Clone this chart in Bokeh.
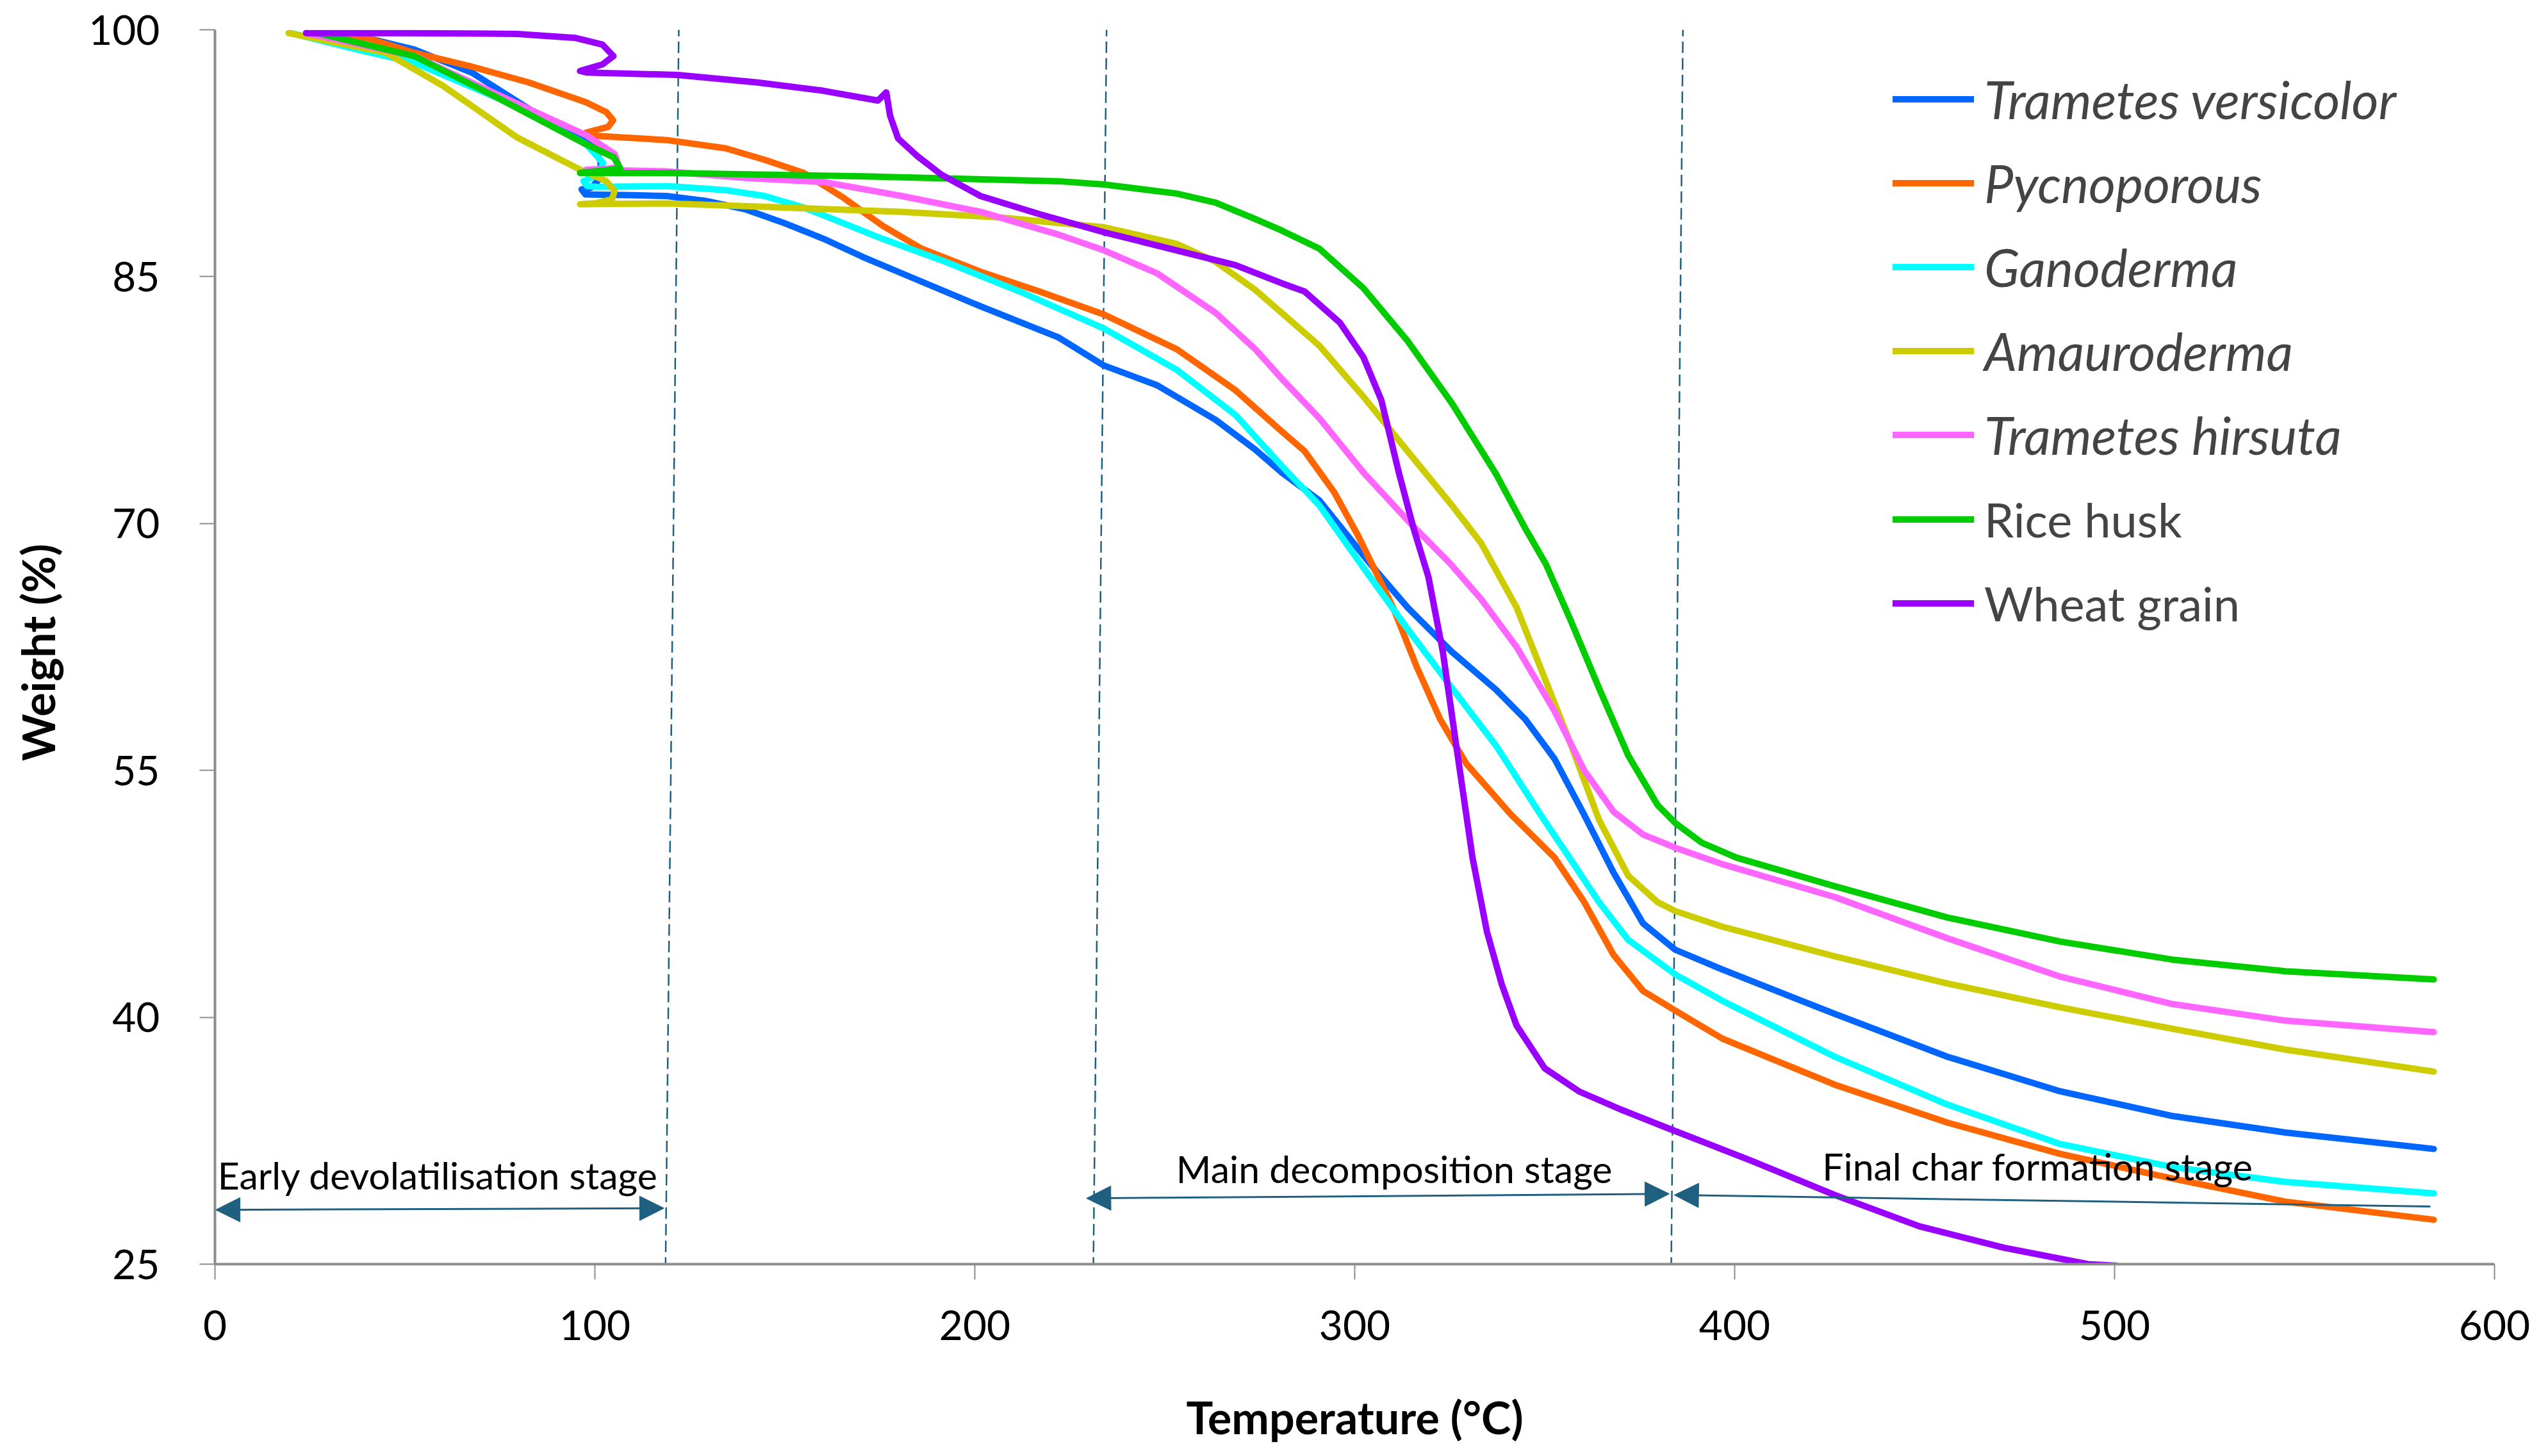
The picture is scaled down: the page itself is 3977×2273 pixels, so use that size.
from bokeh.plotting import figure
from bokeh.models import Range1d, FixedTicker, Legend, LegendItem, Arrow, NormalHead
from bokeh.core.properties import value
from bokeh.embed import file_html
from bokeh.resources import INLINE

# --- data (temperature in degC, weight in %) ---
tv_t = [24, 40, 52.5, 67.6, 82.6, 95, 99.2, 101.5, 101.5, 99, 96.5, 97.5, 110, 118.9, 129.2, 139.5, 149.9, 160.2,
        170.5, 180.8, 201.5, 222.1, 234, 248, 263.4, 273.8, 280.8, 290.7, 303.9, 313.9, 325.6, 337.2, 344.9, 352.6,
        360.4, 368.1, 375.9, 384.4, 396.8, 426.4, 456, 485.7, 515.3, 544.9, 584]
tv_w = [99.8, 99.5, 98.8, 97.4, 95.2, 93.7, 93.05, 92.0, 91.0, 90.4, 90.3, 90.0, 89.95, 89.9, 89.6, 89.1, 88.25, 87.3,
        86.2, 85.2, 83.2, 81.3, 79.6, 78.4, 76.3, 74.5, 73.1, 71.4, 67.6, 64.9, 62.2, 59.9, 58.1, 55.7, 52.3, 48.8,
        45.7, 44.1, 42.9, 40.2, 37.6, 35.5, 34.0, 33.0, 32.0]

py_t = [24, 40, 52.5, 67, 82.6, 97.6, 103, 104.8, 103.5, 100, 97.7, 100.7, 118.9, 134.4, 144.7, 155, 165.4, 175.7, 186,
        201.5, 217, 234, 253.1, 268.6, 280.8, 286.8, 294.6, 300.8, 306.2, 310.1, 316.3, 322.5, 329.4, 341, 352.6,
        360.4, 368.1, 375.9, 384.4, 396.8, 426.4, 456, 485.7, 515.3, 544.9, 584]
py_w = [99.8, 99.5, 98.6, 97.8, 96.8, 95.6, 95.0, 94.5, 94.1, 93.9, 93.75, 93.55, 93.3, 92.8, 92.1, 91.3, 89.8, 88.1,
        86.7, 85.3, 84.1, 82.7, 80.6, 78.1, 75.6, 74.4, 71.9, 69.3, 66.75, 64.9, 61.3, 58.1, 55.4, 52.35, 49.7, 47.0,
        43.8, 41.6, 40.4, 38.7, 35.9, 33.6, 31.7, 30.2, 28.8, 27.7]

ga_t = [20, 37.5, 52.5, 75, 97.7, 102.2, 101, 97, 98, 100.7, 118.9, 134.4, 144.7, 155, 165.4, 175.7, 191.2, 211.8, 234,
        253.1, 268.6, 280.8, 290.7, 301.6, 313.9, 325.6, 337.2, 348.8, 356.5, 364.3, 372, 384.4, 396.8, 426.4, 456,
        485.7, 515.3, 544.9, 584]
ga_w = [99.8, 98.8, 98.0, 95.8, 93.05, 91.9, 91.2, 90.8, 90.5, 90.45, 90.5, 90.26, 89.9, 89.2, 88.25, 87.3, 86.0, 84.1,
        81.85, 79.35, 76.6, 73.5, 71.1, 67.54, 63.6, 60.0, 56.5, 52.35, 49.7, 47.0, 44.7, 42.6, 41.0, 37.6, 34.7, 32.3,
        30.9, 30.0, 29.3]

am_t = [19.4, 45, 60, 79.6, 96.1, 103, 105.2, 104.5, 100, 96.1, 118.9, 149.9, 180.8, 206.7, 234, 253.1, 263.4, 273.8,
        280.8, 290.7, 302.3, 313.9, 325.6, 333.3, 342.6, 348.8, 356.5, 364.3, 372, 379.7, 384.4, 396.8, 426.4, 456,
        485.7, 515.3, 544.9, 584]
am_w = [99.8, 98.6, 96.6, 93.45, 91.5, 90.8, 90.2, 89.7, 89.45, 89.4, 89.45, 89.2, 88.94, 88.6, 88.0, 87.0, 85.9, 84.2,
        82.8, 80.8, 77.7, 74.4, 71.1, 68.8, 64.9, 61.3, 56.8, 52.0, 48.6, 47.0, 46.45, 45.5, 43.7, 42.05, 40.6, 39.3,
        38.04, 36.7]

th_t = [24, 52.5, 75, 97.7, 105.2, 106.4, 103, 97.7, 118.9, 139.5, 160.2, 180.8, 201.5, 222.1, 234, 248, 263.4, 273.8,
        280.8, 290.7, 302.3, 313.9, 325, 333.3, 342.6, 352.6, 360.4, 368.1, 375.9, 384.4, 396.8, 426.4, 456, 485.7,
        515.3, 544.9, 584]
th_w = [99.8, 98.4, 96.0, 93.6, 92.45, 91.66, 91.55, 91.5, 91.4, 91.0, 90.75, 89.9, 88.94, 87.55, 86.6, 85.2, 82.8,
        80.6, 78.8, 76.4, 73.1, 70.2, 67.6, 65.4, 62.5, 58.6, 55.0, 52.5, 51.1, 50.3, 49.3, 47.3, 44.8, 42.47, 40.8,
        39.8, 39.1]

rh_t = [27, 52.5, 75, 97.6, 105, 106.7, 100, 96.1, 118.9, 170.5, 222.1, 234, 253.1, 263.4, 273.8, 280.8, 290.7, 302.3,
        313.9, 325.6, 337.2, 344.9, 350.3, 356.5, 364.3, 372, 379.7, 384.4, 391.4, 400.5, 426.4, 456, 485.7, 515.3,
        544.9, 584]
rh_w = [99.8, 98.4, 95.8, 93.05, 92.25, 91.56, 91.4, 91.3, 91.3, 91.1, 90.8, 90.6, 90.05, 89.5, 88.5, 87.8, 86.7, 84.3,
        81.1, 77.3, 73.0, 69.7, 67.54, 64.3, 60.0, 55.9, 52.9, 51.8, 50.6, 49.7, 47.96, 46.06, 44.6, 43.5, 42.8, 42.3]

wg_t = [24, 50, 79.6, 95, 102, 104.9, 102, 96.1, 98, 121.8, 142.8, 160, 174.5, 176.7, 177.7, 179.8, 185, 191.2, 201.5,
        217, 234, 253.1, 268.6, 280.8, 286.8, 296.1, 302.3, 307, 311.6, 315.5, 319.4, 323.2, 327.1, 331, 334.8, 338.7,
        342.6, 350, 359, 370, 382, 404.2, 426.4, 448.6, 470.9, 493, 500.5]
wg_w = [99.8, 99.8, 99.75, 99.5, 99.1, 98.4, 97.9, 97.5, 97.4, 97.26, 96.8, 96.3, 95.7, 96.2, 94.78, 93.4, 92.3, 91.2,
        89.9, 88.8, 87.7, 86.6, 85.7, 84.6, 84.1, 82.2, 80.1, 77.5, 73.1, 69.7, 66.75, 62.2, 55.9, 49.7, 45.2, 42.0,
        39.5, 36.9, 35.5, 34.4, 33.3, 31.3, 29.2, 27.3, 26.0, 25.0, 24.9]

names = ["Trametes versicolor", "Pycnoporous", "Ganoderma", "Amauroderma", "Trametes hirsuta", "Rice husk", "Wheat grain"]
colors = ["#0066FF", "#FF6600", "#00FFFF", "#CCCC00", "#FF66FF", "#00CC00", "#9900FF"]
series = [(tv_t, tv_w), (py_t, py_w), (ga_t, ga_w), (am_t, am_w), (th_t, th_w), (rh_t, rh_w), (wg_t, wg_w)]

x_ticks = [0, 100, 200, 300, 400, 500, 600]
y_ticks = [25, 40, 55, 70, 85, 100]

# stage boundaries (slightly slanted dashed lines in the original)
div_top_x = [122.1, 234.7, 386.4]
div_bot_x = [118.6, 231.2, 383.3]
div_top_y = [100.3, 100.3, 100.3]
div_bot_y = [24.8, 24.8, 24.8]

# stage arrows: (x_start, y_start, x_end, y_end, head at start, head at end)
arrows = [(0.2, 28.3, 118.2, 28.4, True, True),
          (229.4, 29.0, 382.8, 29.27, True, True),
          (384.1, 29.2, 583.1, 28.5, True, False)]
stage_labels = ["Early devolatilisation stage", "Main decomposition stage", "Final char formation stage"]
stage_x = [58.7, 310.4, 479.8]
stage_y = [30.4, 30.8, 30.95]

FONT = "Lato"
TEAL = "#1f6080"
AXIS_GRAY = "#8c8c8c"

p = figure(width=3961, height=2257, x_range=Range1d(0, 600), y_range=Range1d(25, 100),
           output_backend="svg", toolbar_location=None,
           min_border_left=335, min_border_right=68, min_border_top=46, min_border_bottom=284)
p.outline_line_color = None
p.xgrid.grid_line_color = None
p.ygrid.grid_line_color = None

p.xaxis.ticker = FixedTicker(ticks=x_ticks)
p.yaxis.ticker = FixedTicker(ticks=y_ticks)
for ax in (p.xaxis, p.yaxis):
    ax.axis_line_color = AXIS_GRAY
    ax.axis_line_width = 4
    ax.major_tick_line_color = AXIS_GRAY
    ax.major_tick_line_width = 2
    ax.major_tick_out = 24
    ax.major_tick_in = 0
    ax.minor_tick_line_color = None
    ax.major_label_text_font = FONT
    ax.major_label_text_font_size = "64px"
    ax.major_label_text_color = "black"
    ax.axis_label_text_font = FONT
    ax.axis_label_text_font_size = "70px"
    ax.axis_label_text_font_style = "bold"
    ax.axis_label_text_color = "black"
p.xaxis.axis_label = "Temperature (°C)"
p.yaxis.axis_label = "Weight  (%)"
p.xaxis.major_label_standoff = 48
p.yaxis.major_label_standoff = 62
p.xaxis.axis_label_standoff = 75
p.yaxis.axis_label_standoff = 34

# dashed stage dividers
p.segment(x0=div_top_x, y0=div_top_y, x1=div_bot_x, y1=div_bot_y,
          line_color=TEAL, line_width=2.5, line_dash="18 8")

# curves
renderers = []
for (t, w), c in zip(series, colors):
    r = p.line(t, w, line_color=c, line_width=10, line_cap="round", line_join="round")
    renderers.append(r)

# stage arrows
for x0, y0, x1, y1, hs, he in arrows:
    p.add_layout(Arrow(x_start=x0, y_start=y0, x_end=x1, y_end=y1,
                       line_color=TEAL, line_width=3,
                       start=NormalHead(size=38, fill_color=TEAL, line_color=TEAL) if hs else None,
                       end=NormalHead(size=38, fill_color=TEAL, line_color=TEAL) if he else None))

p.text(x=stage_x, y=stage_y, text=stage_labels, text_font=value(FONT), text_font_size="59px",
       text_align="center", text_baseline="alphabetic", text_color="black")


# legend: two blocks, italic species names and plain names
def make_legend(items, loc, style, size):
    return Legend(items=items, location=loc, glyph_width=127, glyph_height=131, label_height=131,
                  spacing=0, padding=0, margin=0, label_standoff=16,
                  label_text_font=FONT, label_text_font_size=size, label_text_font_style=style,
                  border_line_color=None, background_fill_alpha=0)


items1 = [LegendItem(label=n, renderers=[r]) for n, r in zip(names[:5], renderers[:5])]
items2 = [LegendItem(label=n, renderers=[r]) for n, r in zip(names[5:], renderers[5:])]
p.add_layout(make_legend(items1, (2619, 1229.5), "italic", "81px"))
p.add_layout(make_legend(items2, (2619, 966.5), "normal", "74px"))

open("out.html", "w").write(file_html(p, INLINE))
